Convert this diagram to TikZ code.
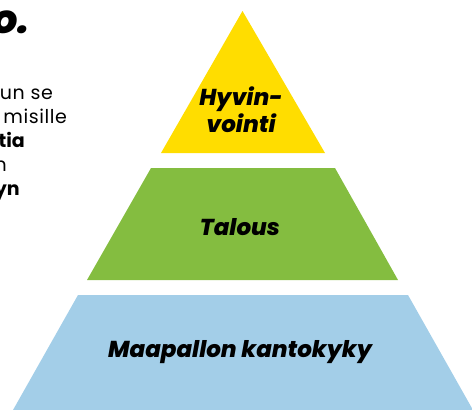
\documentclass[tikz,border=0pt]{standalone}
\usepackage{fontspec}
\setmainfont{Poppins}
\newfontfamily\heavyfont{Poppins ExtraBold Italic}
\newfontfamily\sidefont{Poppins}[LetterSpace=3]
\definecolor{yellowc}{RGB}{255,221,0}
\definecolor{greenc}{RGB}{132,189,64}
\definecolor{bluec}{RGB}{163,206,232}
\tikzset{
  lbl/.style={font=\heavyfont\fontsize{23}{27}\selectfont, text=black, align=center, inner sep=0pt},
  sidetxt/.style={font=\sidefont\fontsize{19}{24}\selectfont, anchor=base east, inner sep=0pt},
  sidebold/.style={sidetxt, font=\fontsize{19}{24}\selectfont\bfseries},
  bigtxt/.style={font=\heavyfont\fontsize{40}{44}\selectfont, anchor=base east, inner sep=0pt}
}
\begin{document}
\begin{tikzpicture}[x=1pt,y=-1pt]
\useasboundingbox (0,0) rectangle (472,410);
\clip (0,0) rectangle (472,410);
\fill[yellowc] (242.5,11) -- (325,153) -- (161,153) -- cycle;
\fill[greenc] (151,168) -- (335,168) -- (398,280) -- (87,280) -- cycle;
\fill[bluec] (78,295) -- (408,295) -- (473,410) -- (13,410) -- cycle;
\node[lbl] (hv) at (241,110) {Hyvin-\\vointi};
\node[lbl] (ta) at (240,227) {Talous};
\node[lbl] (mk) at (240,352) {Maapallon kantokyky};
\node[bigtxt] (o) at (30,33) {o.};
\node[sidetxt] (t1) at (53,99) {un se};
\node[sidetxt] (t2) at (67,123) {misille};
\node[sidebold] (t3) at (25,147) {tia};
\node[sidetxt] (t4) at (7,171) {n};
\node[sidebold] (t5) at (20,195) {yn};
\end{tikzpicture}
\end{document}
